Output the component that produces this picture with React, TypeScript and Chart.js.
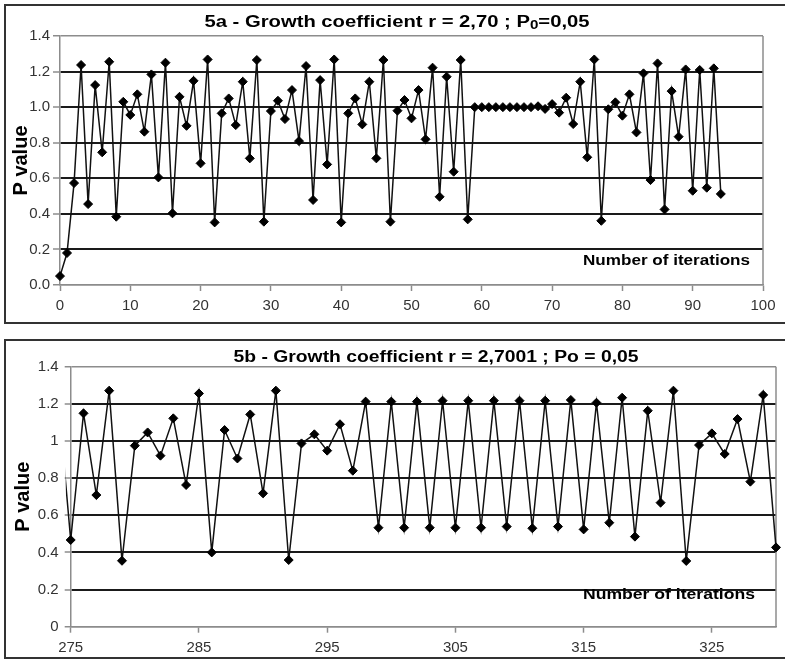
import React, { useEffect, useRef } from "react";
import { Chart, registerables } from "chart.js";

Chart.register(...registerables);

// ---------- data ----------
// Title pieces: [text, isSubscript]
const A_TITLE: [string, boolean][] = [
  ["5a - Growth coefficient r = 2,70 ; P", false],
  ["0", true],
  ["=0,05", false],
];
const B_TITLE: [string, boolean][] = [["5b - Growth coefficient r = 2,7001 ; Po = 0,05", false]];
const Y_LABEL = "P value";
const X_NOTE = "Number of iterations";

// Chart 5a: iterations 0..94
const A_FIRST_ITER = 0;
const A_VALUES = [
  0.05, 0.18, 0.573, 1.237, 0.455, 1.124, 0.746, 1.255, 0.384, 1.03,
  0.956, 1.072, 0.862, 1.184, 0.605, 1.25, 0.403, 1.058, 0.895, 1.148,
  0.684, 1.268, 0.352, 0.965, 1.049, 0.899, 1.143, 0.712, 1.265, 0.356,
  0.978, 1.036, 0.933, 1.096, 0.809, 1.231, 0.478, 1.152, 0.678, 1.268,
  0.352, 0.965, 1.049, 0.903, 1.143, 0.712, 1.265, 0.356, 0.98, 1.04,
  0.937, 1.096, 0.819, 1.222, 0.496, 1.171, 0.637, 1.265, 0.369, 1.0,
  1.0, 1.0, 1.0, 1.0, 1.0, 1.0, 1.0, 1.0, 1.005, 0.99,
  1.017, 0.969, 1.053, 0.905, 1.143, 0.718, 1.268, 0.361, 0.988, 1.027,
  0.952, 1.072, 0.858, 1.19, 0.59, 1.246, 0.425, 1.09, 0.834, 1.212,
  0.53, 1.209, 0.547, 1.218, 0.512,
];
const A_X_MIN = 0;
const A_X_MAX = 100;
const A_X_TICKS = [0, 10, 20, 30, 40, 50, 60, 70, 80, 90, 100];
const A_Y_TICKS = [0, 0.2, 0.4, 0.6, 0.8, 1.0, 1.2, 1.4];
const A_Y_TICK_LABELS = ["0.0", "0.2", "0.4", "0.6", "0.8", "1.0", "1.2", "1.4"];

// Chart 5b: iterations 274..331 (274 and 331 lie just outside the plotted range)
const B_FIRST_ITER = 274;
const B_VALUES = [
  1.25,
  0.467, 1.149, 0.709, 1.271, 0.355, 0.975, 1.046, 0.921, 1.122, 0.763,
  1.256, 0.4, 1.059, 0.906, 1.143, 0.718, 1.271, 0.359, 0.987, 1.036,
  0.948, 1.09, 0.84, 1.212, 0.533, 1.212, 0.533, 1.212, 0.533, 1.217,
  0.533, 1.217, 0.533, 1.217, 0.539, 1.217, 0.53, 1.217, 0.539, 1.221,
  0.524, 1.206, 0.56, 1.233, 0.485, 1.163, 0.668, 1.271, 0.354, 0.978,
  1.041, 0.93, 1.118, 0.781, 1.248, 0.427,
  1.29,
];
const B_X_MIN = 275;
const B_X_MAX = 330;
const B_X_TICKS = [275, 285, 295, 305, 315, 325];
const B_Y_TICKS = [0, 0.2, 0.4, 0.6, 0.8, 1.0, 1.2, 1.4];
const B_Y_TICK_LABELS = ["0", "0.2", "0.4", "0.6", "0.8", "1", "1.2", "1.4"];

// ---------- styles ----------
const GRAY = "#8c8c8c";
const GRID = "#1a1a1a";
const LINE = "#111111";
const TICK_COLOR = "#333333";
const FAMILY = '"Liberation Sans", Arial, sans-serif';

type Panel = {
  title: [string, boolean][];
  firstIter: number;
  values: number[];
  xMin: number;
  xMax: number;
  xTicks: number[];
  yTicks: number[];
  yTickLabels: string[];
  canvasTop: number;
  width: number;
  height: number;
  padTop: number;
  padRight: number;
  yAxisWidth: number;
  xAxisHeight: number;
  yTitlePad: number;
  yTickLen: number;
  yTickPad: number;
  titleX: number;
  titleY: number;
  titleW: number;
  noteDx: number;
  noteDy: number;
  noteW: number;
};

function drawStretchedPieces(
  ctx: CanvasRenderingContext2D,
  pieces: [string, boolean][],
  cx: number,
  cy: number,
  size: number,
  targetWidth: number
) {
  const mainFont = `bold ${size}px ${FAMILY}`;
  const subFont = `bold ${Math.round(size * 0.72)}px ${FAMILY}`;
  ctx.save();
  let total = 0;
  const widths = pieces.map(([t, sub]) => {
    ctx.font = sub ? subFont : mainFont;
    const w = ctx.measureText(t).width;
    total += w;
    return w;
  });
  const sx = targetWidth / (total || 1);
  ctx.translate(cx, cy);
  ctx.scale(sx, 1);
  ctx.textAlign = "left";
  ctx.textBaseline = "alphabetic";
  ctx.fillStyle = "#000";
  let x = -total / 2;
  const base = size * 0.36;
  pieces.forEach(([t, sub], i) => {
    ctx.font = sub ? subFont : mainFont;
    ctx.fillText(t, x, sub ? base + size * 0.12 : base);
    x += widths[i];
  });
  ctx.restore();
}

function makeDecor(p: Panel) {
  return {
    id: "decor",
    beforeDatasetsDraw(chart: any) {
      const { ctx, chartArea: a } = chart;
      ctx.save();
      ctx.strokeStyle = GRAY;
      ctx.lineWidth = 1.5;
      ctx.beginPath();
      ctx.moveTo(a.right, a.top);
      ctx.lineTo(a.right, a.bottom);
      ctx.stroke();
      ctx.restore();
      drawStretchedPieces(ctx, [[X_NOTE, false]], a.right - p.noteDx, a.bottom - p.noteDy, 15, p.noteW);
    },
    afterDraw(chart: any) {
      drawStretchedPieces(chart.ctx, p.title, p.titleX, p.titleY, 16, p.titleW);
    },
  };
}

function buildConfig(p: Panel): any {
  const points = p.values.map((v, i) => ({ x: p.firstIter + i, y: v }));
  const isEdge = (v: number) =>
    Math.abs(v - p.yTicks[0]) < 1e-9 || Math.abs(v - p.yTicks[p.yTicks.length - 1]) < 1e-9;
  return {
    type: "line",
    data: {
      datasets: [
        {
          data: points,
          borderColor: LINE,
          borderWidth: 1.5,
          tension: 0,
          pointStyle: "rectRot",
          pointRadius: (c: any) => {
            const x = c.raw ? c.raw.x : 0;
            return x < p.xMin || x > p.xMax ? 0 : 4.5;
          },
          pointBackgroundColor: "#000",
          pointBorderColor: "#000",
          pointBorderWidth: 1,
          clip: { left: 5, right: 5, top: 10, bottom: 10 },
        },
      ],
    },
    options: {
      animation: false,
      responsive: false,
      devicePixelRatio: 1,
      layout: { padding: { top: p.padTop, right: p.padRight, left: 0, bottom: 0 } },
      plugins: {
        legend: { display: false },
        tooltip: { enabled: false },
        title: { display: false },
      },
      scales: {
        x: {
          type: "linear",
          min: p.xMin,
          max: p.xMax,
          afterBuildTicks: (s: any) => {
            s.ticks = p.xTicks.map((v) => ({ value: v }));
          },
          afterFit: (s: any) => {
            s.height = p.xAxisHeight;
            s.paddingLeft = 0;
            s.paddingRight = 0;
          },
          grid: {
            drawOnChartArea: false,
            drawTicks: true,
            tickLength: 6,
            tickColor: GRAY,
            tickWidth: 1.5,
          },
          border: { display: true, color: GRAY, width: 1.5 },
          ticks: {
            autoSkip: false,
            maxRotation: 0,
            padding: 6,
            color: TICK_COLOR,
            font: { family: FAMILY, size: 15 },
          },
        },
        y: {
          type: "linear",
          min: p.yTicks[0],
          max: p.yTicks[p.yTicks.length - 1],
          afterBuildTicks: (s: any) => {
            s.ticks = p.yTicks.map((v) => ({ value: v }));
          },
          afterFit: (s: any) => {
            s.width = p.yAxisWidth;
            s.paddingTop = 0;
            s.paddingBottom = 0;
          },
          grid: {
            drawOnChartArea: true,
            drawTicks: true,
            tickLength: p.yTickLen,
            tickColor: GRAY,
            tickWidth: 1.5,
            color: (c: any) => (c.tick && isEdge(c.tick.value) ? GRAY : GRID),
            lineWidth: (c: any) => (c.tick && isEdge(c.tick.value) ? 1.5 : 2),
          },
          border: { display: true, color: GRAY, width: 1.5 },
          ticks: {
            padding: p.yTickPad,
            color: TICK_COLOR,
            font: { family: FAMILY, size: 15 },
            callback: (_v: any, i: number) => p.yTickLabels[i],
          },
          title: {
            display: true,
            text: Y_LABEL,
            color: "#000",
            font: { family: FAMILY, size: 20, weight: "bold" },
            padding: { top: p.yTitlePad, bottom: 0 },
          },
        },
      },
    },
    plugins: [makeDecor(p)],
  };
}

const PANEL_A: Panel = {
  title: A_TITLE,
  firstIter: A_FIRST_ITER,
  values: A_VALUES,
  xMin: A_X_MIN,
  xMax: A_X_MAX,
  xTicks: A_X_TICKS,
  yTicks: A_Y_TICKS,
  yTickLabels: A_Y_TICK_LABELS,
  canvasTop: 0,
  width: 785,
  height: 330,
  padTop: 36,
  padRight: 22,
  yAxisWidth: 60,
  xAxisHeight: 45,
  yTitlePad: 9.5,
  yTickLen: 7,
  yTickPad: 3,
  titleX: 397,
  titleY: 21,
  titleW: 385,
  noteDx: 96.5,
  noteDy: 25,
  noteW: 167,
};

const PANEL_B: Panel = {
  title: B_TITLE,
  firstIter: B_FIRST_ITER,
  values: B_VALUES,
  xMin: B_X_MIN,
  xMax: B_X_MAX,
  xTicks: B_X_TICKS,
  yTicks: B_Y_TICKS,
  yTickLabels: B_Y_TICK_LABELS,
  canvasTop: 330,
  width: 785,
  height: 331,
  padTop: 36.7,
  padRight: 9,
  yAxisWidth: 70.7,
  xAxisHeight: 34.3,
  yTitlePad: 11,
  yTickLen: 6,
  yTickPad: 6,
  titleX: 436,
  titleY: 26,
  titleW: 405,
  noteDx: 107,
  noteDy: 32.7,
  noteW: 172,
};

function ChartPanel({ panel }: { panel: Panel }) {
  const ref = useRef<HTMLCanvasElement>(null);
  useEffect(() => {
    if (!ref.current) return;
    const chart = new Chart(ref.current, buildConfig(panel));
    return () => chart.destroy();
  }, [panel]);
  return (
    <canvas
      ref={ref}
      width={panel.width}
      height={panel.height}
      style={{
        position: "absolute",
        left: 0,
        top: panel.canvasTop,
        width: panel.width,
        height: panel.height,
        display: "block",
      }}
    />
  );
}

export default function App() {
  const box: React.CSSProperties = {
    position: "absolute",
    left: 4,
    width: 781,
    boxSizing: "border-box",
    border: "2px solid #333",
    borderRight: "none",
    background: "#fff",
  };
  return (
    <div>
      <div style={{ ...box, top: 4, height: 320 }} />
      <div style={{ ...box, top: 339, height: 320 }} />
      <ChartPanel panel={PANEL_A} />
      <ChartPanel panel={PANEL_B} />
    </div>
  );
}
